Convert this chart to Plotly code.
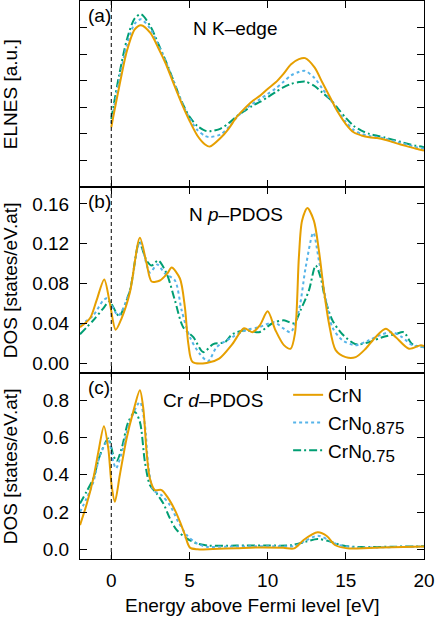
import plotly.graph_objects as go
from plotly.subplots import make_subplots

# --- (a) N K-edge ELNES (arbitrary units) ---
e_a = [0, 0.5, 1.0, 1.5, 1.9, 2.5, 3.0, 3.5, 4.0, 4.5, 5.0, 5.5, 6.0, 6.3, 7.0,
       7.5, 8.0, 8.5, 9.0, 9.5, 10, 10.5, 11, 11.5, 12, 12.4, 13, 13.5, 14,
       14.5, 15, 15.5, 16, 16.5, 17, 17.5, 18, 18.5, 19, 19.5, 20]
elnes_crn = [2.25, 3.75, 5.12, 5.93, 6.09, 5.8, 5.24, 4.62, 3.87, 3.15, 2.5,
             1.94, 1.6, 1.52, 1.85, 2.19, 2.62, 2.94, 3.22, 3.43, 3.69, 3.93,
             4.25, 4.62, 4.81, 4.85, 4.5, 3.93, 3.37, 2.81, 2.37, 2.06, 1.94,
             1.87, 1.84, 1.78, 1.69, 1.6, 1.52, 1.44, 1.37]
elnes_0875 = [2.4, 4.0, 5.35, 6.15, 6.31, 5.95, 5.35, 4.7, 3.95, 3.2, 2.6,
              2.15, 1.92, 1.88, 1.98, 2.25, 2.6, 2.9, 3.12, 3.3, 3.5, 3.7,
              3.95, 4.2, 4.33, 4.37, 4.1, 3.7, 3.3, 2.85, 2.45, 2.15, 2.0,
              1.92, 1.88, 1.82, 1.74, 1.66, 1.58, 1.5, 1.44]
elnes_075 = [2.56, 4.2, 5.55, 6.35, 6.5, 6.05, 5.4, 4.72, 3.97, 3.22, 2.65,
             2.3, 2.12, 2.1, 2.2, 2.4, 2.65, 2.85, 3.05, 3.2, 3.38, 3.57,
             3.75, 3.88, 3.95, 3.97, 3.8, 3.55, 3.3, 2.95, 2.6, 2.3, 2.12,
             2.0, 1.93, 1.86, 1.78, 1.7, 1.62, 1.55, 1.5]

# --- (b) N p-PDOS ---
e_b_crn = [-2.0, -1.36, -0.94, -0.45, -0.09, 0.28, 0.66, 1.19, 1.83, 2.26, 2.58,
           3.11, 3.58, 3.86, 4.39, 4.71, 4.93, 5.2, 6.1, 6.9, 7.74, 8.49, 9.02,
           9.5, 10.0, 10.5, 11.04, 11.47, 11.75, 12.0, 12.2, 12.54, 12.96,
           13.28, 13.6, 13.92, 14.35, 14.99, 15.63, 16.27, 16.9, 17.55, 18.2,
           19.04, 19.8, 20]
pdos_n_crn = [0.036, 0.045, 0.063, 0.084, 0.06, 0.0335, 0.045, 0.071, 0.126,
              0.10, 0.082, 0.083, 0.09, 0.096, 0.085, 0.056, 0.019, 0.001, 0.0,
              0.0044, 0.019, 0.035, 0.031, 0.038, 0.052, 0.033, 0.018, 0.0144,
              0.03, 0.107, 0.143, 0.156, 0.143, 0.113, 0.073, 0.04, 0.013,
              0.006, 0.006, 0.0144, 0.026, 0.0345, 0.026, 0.0144, 0.018, 0.017]
e_b_0875 = [-2.0, -1.15, -0.51, -0.25, 0.45, 1.19, 1.83, 2.47, 2.94, 3.43, 4.07,
            4.5, 5.03, 5.67, 6.2, 6.74, 7.74, 8.6, 9.45, 10.4, 11.04, 11.47,
            12.0, 12.43, 12.92, 13.28, 13.7, 14.14, 14.78, 15.63, 16.48, 17.33,
            17.97, 18.6, 19.25, 20]
pdos_n_0875 = [0.038, 0.048, 0.063, 0.065, 0.048, 0.073, 0.122, 0.091, 0.099,
               0.09, 0.083, 0.053, 0.026, 0.009, 0.002, 0.016, 0.026, 0.033,
               0.036, 0.041, 0.0345, 0.031, 0.053, 0.096, 0.131, 0.103, 0.066,
               0.036, 0.023, 0.018, 0.023, 0.029, 0.031, 0.026, 0.018, 0.016]
e_b_075 = [-2.0, -1.15, -0.51, -0.13, 0.34, 0.51, 1.19, 1.79, 2.26, 2.58, 3.0,
           3.54, 4.07, 4.6, 5.25, 5.88, 6.52, 7.27, 7.74, 8.6, 9.45, 10.3,
           11.04, 11.68, 12.1, 12.64, 13.07, 13.39, 13.7, 14.14, 14.78, 15.63,
           16.48, 17.33, 18.18, 18.7, 19.25, 20]
pdos_n_075 = [0.029, 0.043, 0.055, 0.062, 0.05, 0.047, 0.073, 0.121, 0.103,
              0.098, 0.103, 0.09, 0.063, 0.036, 0.026, 0.011, 0.019, 0.021,
              0.029, 0.033, 0.031, 0.04, 0.043, 0.04, 0.053, 0.073, 0.098,
              0.086, 0.063, 0.043, 0.029, 0.019, 0.021, 0.026, 0.029, 0.031,
              0.019, 0.016]

# --- (c) Cr d-PDOS ---
e_c_crn = [-2.0, -1.58, -1.15, -0.83, -0.47, -0.19, 0.02, 0.23, 0.55, 0.98,
           1.41, 1.83, 2.05, 2.26, 2.47, 2.79, 3.22, 3.65, 4.07, 4.39, 4.71,
           5.03, 5.5, 6.5, 8.0, 9.5, 11.0, 11.7, 12.3, 13.2, 13.8, 14.3, 15.1,
           16.5, 18.0, 20]
pdos_cr_crn = [0.13, 0.24, 0.38, 0.52, 0.66, 0.54, 0.345, 0.255, 0.40, 0.595,
               0.74, 0.854, 0.755, 0.52, 0.38, 0.318, 0.318, 0.273, 0.21,
               0.148, 0.077, 0.009, 0.0, 0.002, 0.006, 0.01, 0.008, 0.005,
               0.05, 0.091, 0.07, 0.023, 0.005, 0.007, 0.011, 0.015]
e_c_0875 = [-2.0, -1.58, -1.15, -0.72, -0.19, 0.13, 0.3, 0.66, 1.19, 1.83, 2.15,
            2.37, 2.69, 3.22, 3.75, 4.28, 4.82, 5.46, 6.1, 7.5, 9.0, 10.5,
            11.7, 12.4, 13.2, 13.9, 14.5, 15.5, 17.0, 18.5, 20]
pdos_cr_0875 = [0.2, 0.273, 0.36, 0.505, 0.585, 0.47, 0.434, 0.514, 0.684,
                0.79, 0.666, 0.45, 0.318, 0.29, 0.237, 0.148, 0.077, 0.032,
                0.014, 0.015, 0.016, 0.017, 0.017, 0.045, 0.073, 0.05, 0.025,
                0.01, 0.01, 0.013, 0.015]
e_c_075 = [-2.0, -1.58, -1.15, -0.72, -0.19, 0.13, 0.34, 0.66, 1.09, 1.51, 1.83,
           2.15, 2.47, 2.9, 3.33, 3.75, 4.18, 4.82, 5.46, 6.2, 8.0, 10.0, 11.5,
           12.4, 13.2, 14.0, 14.8, 16.0, 18.0, 20]
pdos_cr_075 = [0.246, 0.31, 0.38, 0.505, 0.595, 0.505, 0.473, 0.54, 0.684,
               0.737, 0.684, 0.47, 0.345, 0.3, 0.246, 0.166, 0.104, 0.059,
               0.032, 0.02, 0.02, 0.02, 0.022, 0.04, 0.055, 0.042, 0.02, 0.012,
               0.014, 0.016]

sub = "<sub><span style='font-size:17px'>{}</span></sub>"
names = ["CrN", "CrN" + sub.format("0.875"), "CrN" + sub.format("0.75")]
colors = ["#E69F00", "#56B4E9", "#009E73"]
dashes = ["solid", "dot", "8px,3px,2px,3px"]

panels = [
    [(e_a, elnes_crn), (e_a, elnes_0875), (e_a, elnes_075)],
    [(e_b_crn, pdos_n_crn), (e_b_0875, pdos_n_0875), (e_b_075, pdos_n_075)],
    [(e_c_crn, pdos_cr_crn), (e_c_0875, pdos_cr_0875), (e_c_075, pdos_cr_075)],
]

fig = make_subplots(rows=3, cols=1, shared_xaxes=True, vertical_spacing=0)

for row, series in enumerate(panels, start=1):
    # draw the smaller samples first so CrN sits on top like in the paper
    for i in [2, 1, 0]:
        x, y = series[i]
        fig.add_trace(go.Scatter(
            x=x, y=y, mode="lines", name=names[i],
            line=dict(color=colors[i], width=2, dash=dashes[i],
                      shape="spline", smoothing=0.8),
            showlegend=(row == 3), legendrank=i + 1,
        ), row=row, col=1)

font = dict(family="Liberation Sans, Arial, sans-serif", size=19, color="black")
axis_style = dict(showline=True, linecolor="black", linewidth=1, mirror="ticks",
                  ticks="inside", ticklen=7, tickcolor="black", showgrid=False,
                  zeroline=False)

for r in (1, 2, 3):
    fig.update_xaxes(axis_style, range=[-2, 20], tickvals=[0, 5, 10, 15, 20],
                     showticklabels=(r == 3), row=r, col=1)

fig.update_yaxes(axis_style, range=[0, 7], tickvals=[1, 2, 3, 4, 5, 6],
                 showticklabels=False, row=1, col=1)
fig.update_yaxes(axis_style, range=[-0.01, 0.177], tickvals=[0, 0.04, 0.08, 0.12, 0.16],
                 tickformat=".2f", ticklabelstandoff=6, row=2, col=1)
fig.update_yaxes(axis_style, range=[-0.052, 0.946], tickvals=[0, 0.2, 0.4, 0.6, 0.8],
                 tickformat=".1f", ticklabelstandoff=6, row=3, col=1)
fig.update_xaxes(ticklabelstandoff=4, row=3, col=1)

# Fermi level
for r in (1, 2, 3):
    fig.add_vline(x=0, line=dict(color="black", width=1, dash="4px,3px"), row=r, col=1)

ann = []
for i, (lab, ytl, title, tx) in enumerate([
        ("(a)", "ELNES [a.u.]", "N K\u2013edge", 0.453),
        ("(b)", "DOS [states/eV.at]", "N <i>p</i>\u2013PDOS", 0.453),
        ("(c)", "DOS [states/eV.at]", "Cr <i>d</i>\u2013PDOS", 0.387)]):
    xd = "x domain" if i == 0 else f"x{i + 1} domain"
    yd = "y domain" if i == 0 else f"y{i + 1} domain"
    ann.append(dict(text=lab, xref=xd, yref=yd, x=0.017, y=0.92,
                    xanchor="left", yanchor="middle", showarrow=False))
    ann.append(dict(text=title, xref=xd, yref=yd, x=tx, y=0.85,
                    xanchor="center", yanchor="middle", showarrow=False))
    ann.append(dict(text=ytl, xref="paper", yref=yd, x=-0.203, y=0.5,
                    textangle=-90, xanchor="center", yanchor="middle",
                    showarrow=False))
ann.append(dict(text="Energy above Fermi level [eV]", xref="paper", yref="paper",
                x=0.5, y=-0.083, xanchor="center", yanchor="middle",
                showarrow=False))

fig.update_layout(
    width=437, height=617,
    margin=dict(l=80, r=13, t=1, b=58),
    font=font,
    plot_bgcolor="white", paper_bgcolor="white",
    annotations=ann,
    legend=dict(x=0.605, y=0.328, xanchor="left", yanchor="top",
                bgcolor="rgba(0,0,0,0)", font=font, itemwidth=30,
                tracegroupgap=0),
)

# the page's default body margin would shift the figure by 8 px
fig.write_html("out.html", config={"displayModeBar": False},
               post_script="document.body.style.margin = '0';")
